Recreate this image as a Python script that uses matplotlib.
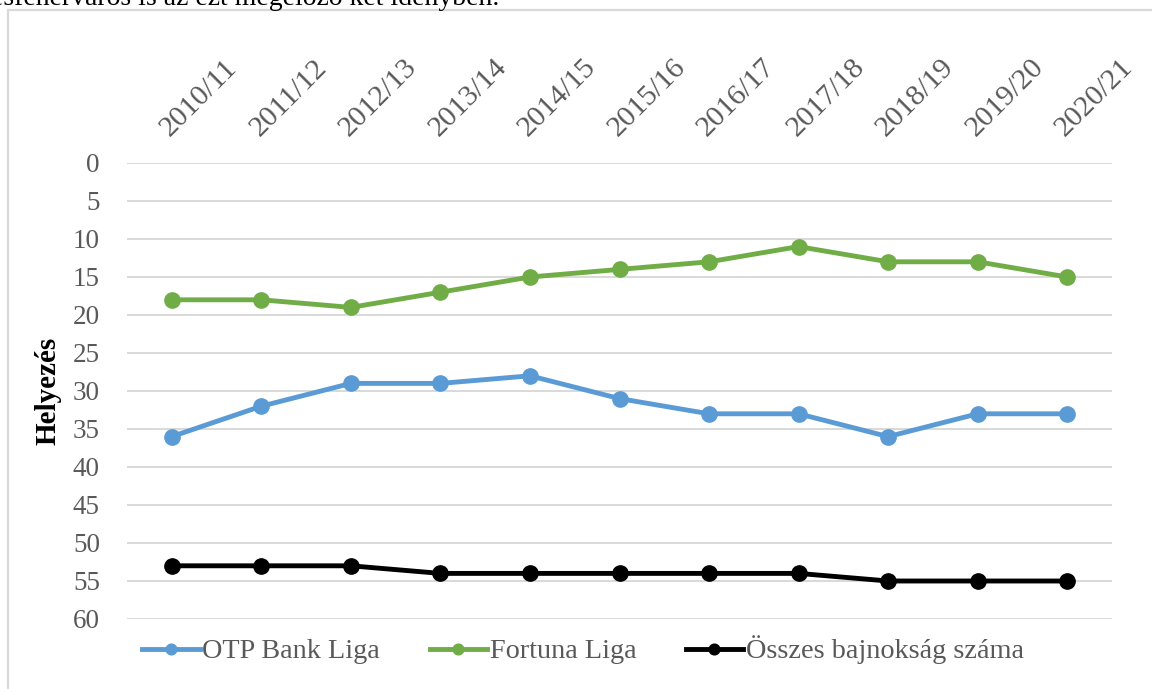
import matplotlib.pyplot as plt
from matplotlib.patches import Rectangle
from matplotlib.transforms import ScaledTranslation

plt.rcParams['font.family'] = ['Liberation Serif', 'DejaVu Serif']

seasons = ["2010/11", "2011/12", "2012/13", "2013/14", "2014/15", "2015/16",
           "2016/17", "2017/18", "2018/19", "2019/20", "2020/21"]
otp = [36, 32, 29, 29, 28, 31, 33, 33, 36, 33, 33]
fortuna = [18, 18, 19, 17, 15, 14, 13, 11, 13, 13, 15]
osszes = [53, 53, 53, 54, 54, 54, 54, 54, 55, 55, 55]
yticks = list(range(0, 61, 5))

W, H = 1152, 689
fig = plt.figure(figsize=(W / 100, H / 100), dpi=100)

# grey frame around the chart (right and bottom edges lie outside the image)
fig.patches.append(Rectangle((8 / W, -0.05), 1.1, 1.05 - 10 / H,
                             transform=fig.transFigure, fill=False,
                             edgecolor='#D9D9D9', lw=1.6))

# sentence of the page above the chart, cut at the top edge
prefix = "Székesfehérváros "
sentence = prefix + "is az ezt megelőző két idényben."
r = fig.canvas.get_renderer()
probe = fig.text(0, 0, prefix, fontsize=20)
pw = probe.get_window_extent(r).width
probe.remove()
fig.text((138 - pw) / W, 1 - 5 / H, sentence, ha='left', va='baseline',
         fontsize=20, color='black')

ax = fig.add_axes([127 / W, 70 / H, 985 / W, 456 / H])
x = range(len(seasons))
ax.plot(x, otp, color='#5B9BD5', lw=3.5, marker='o', ms=11, label='OTP Bank Liga')
ax.plot(x, fortuna, color='#70AD47', lw=3.5, marker='o', ms=11, label='Fortuna Liga')
ax.plot(x, osszes, color='black', lw=3.5, marker='o', ms=11,
        label='Összes bajnokság száma')

ax.set_xlim(-0.5, len(seasons) - 0.5)
ax.set_ylim(60, 0)
ax.set_yticks(yticks)
ax.set_xticks(list(x))
ax.set_xticklabels(seasons, rotation=45, ha='left', va='center',
                   rotation_mode='anchor')
ax.xaxis.tick_top()
ax.tick_params(axis='both', length=0, labelsize=19.5, colors='#595959')
ax.tick_params(axis='x', pad=22, labelsize=21.5)
ax.tick_params(axis='y', pad=19.5)
shift = ScaledTranslation(-7 / 100, 0, fig.dpi_scale_trans)
for t in ax.get_xticklabels():
    t.set_transform(t.get_transform() + shift)
ax.grid(axis='y', color='#D9D9D9', lw=1.4)
ax.set_axisbelow(True)
for s in ax.spines.values():
    s.set_visible(False)

ax.set_ylabel("Helyezés", fontsize=21, fontweight='bold')
ax.yaxis.set_label_coords(-0.066, 0.5)

fig.legend(loc='center', bbox_to_anchor=(583 / W, 1 - 650 / H), ncol=3,
           frameon=False, fontsize=20.3, handlelength=2.05, handletextpad=0.08,
           columnspacing=1.75, markerscale=0.7, labelcolor='#595959')

fig.savefig("out.png", dpi=100)
